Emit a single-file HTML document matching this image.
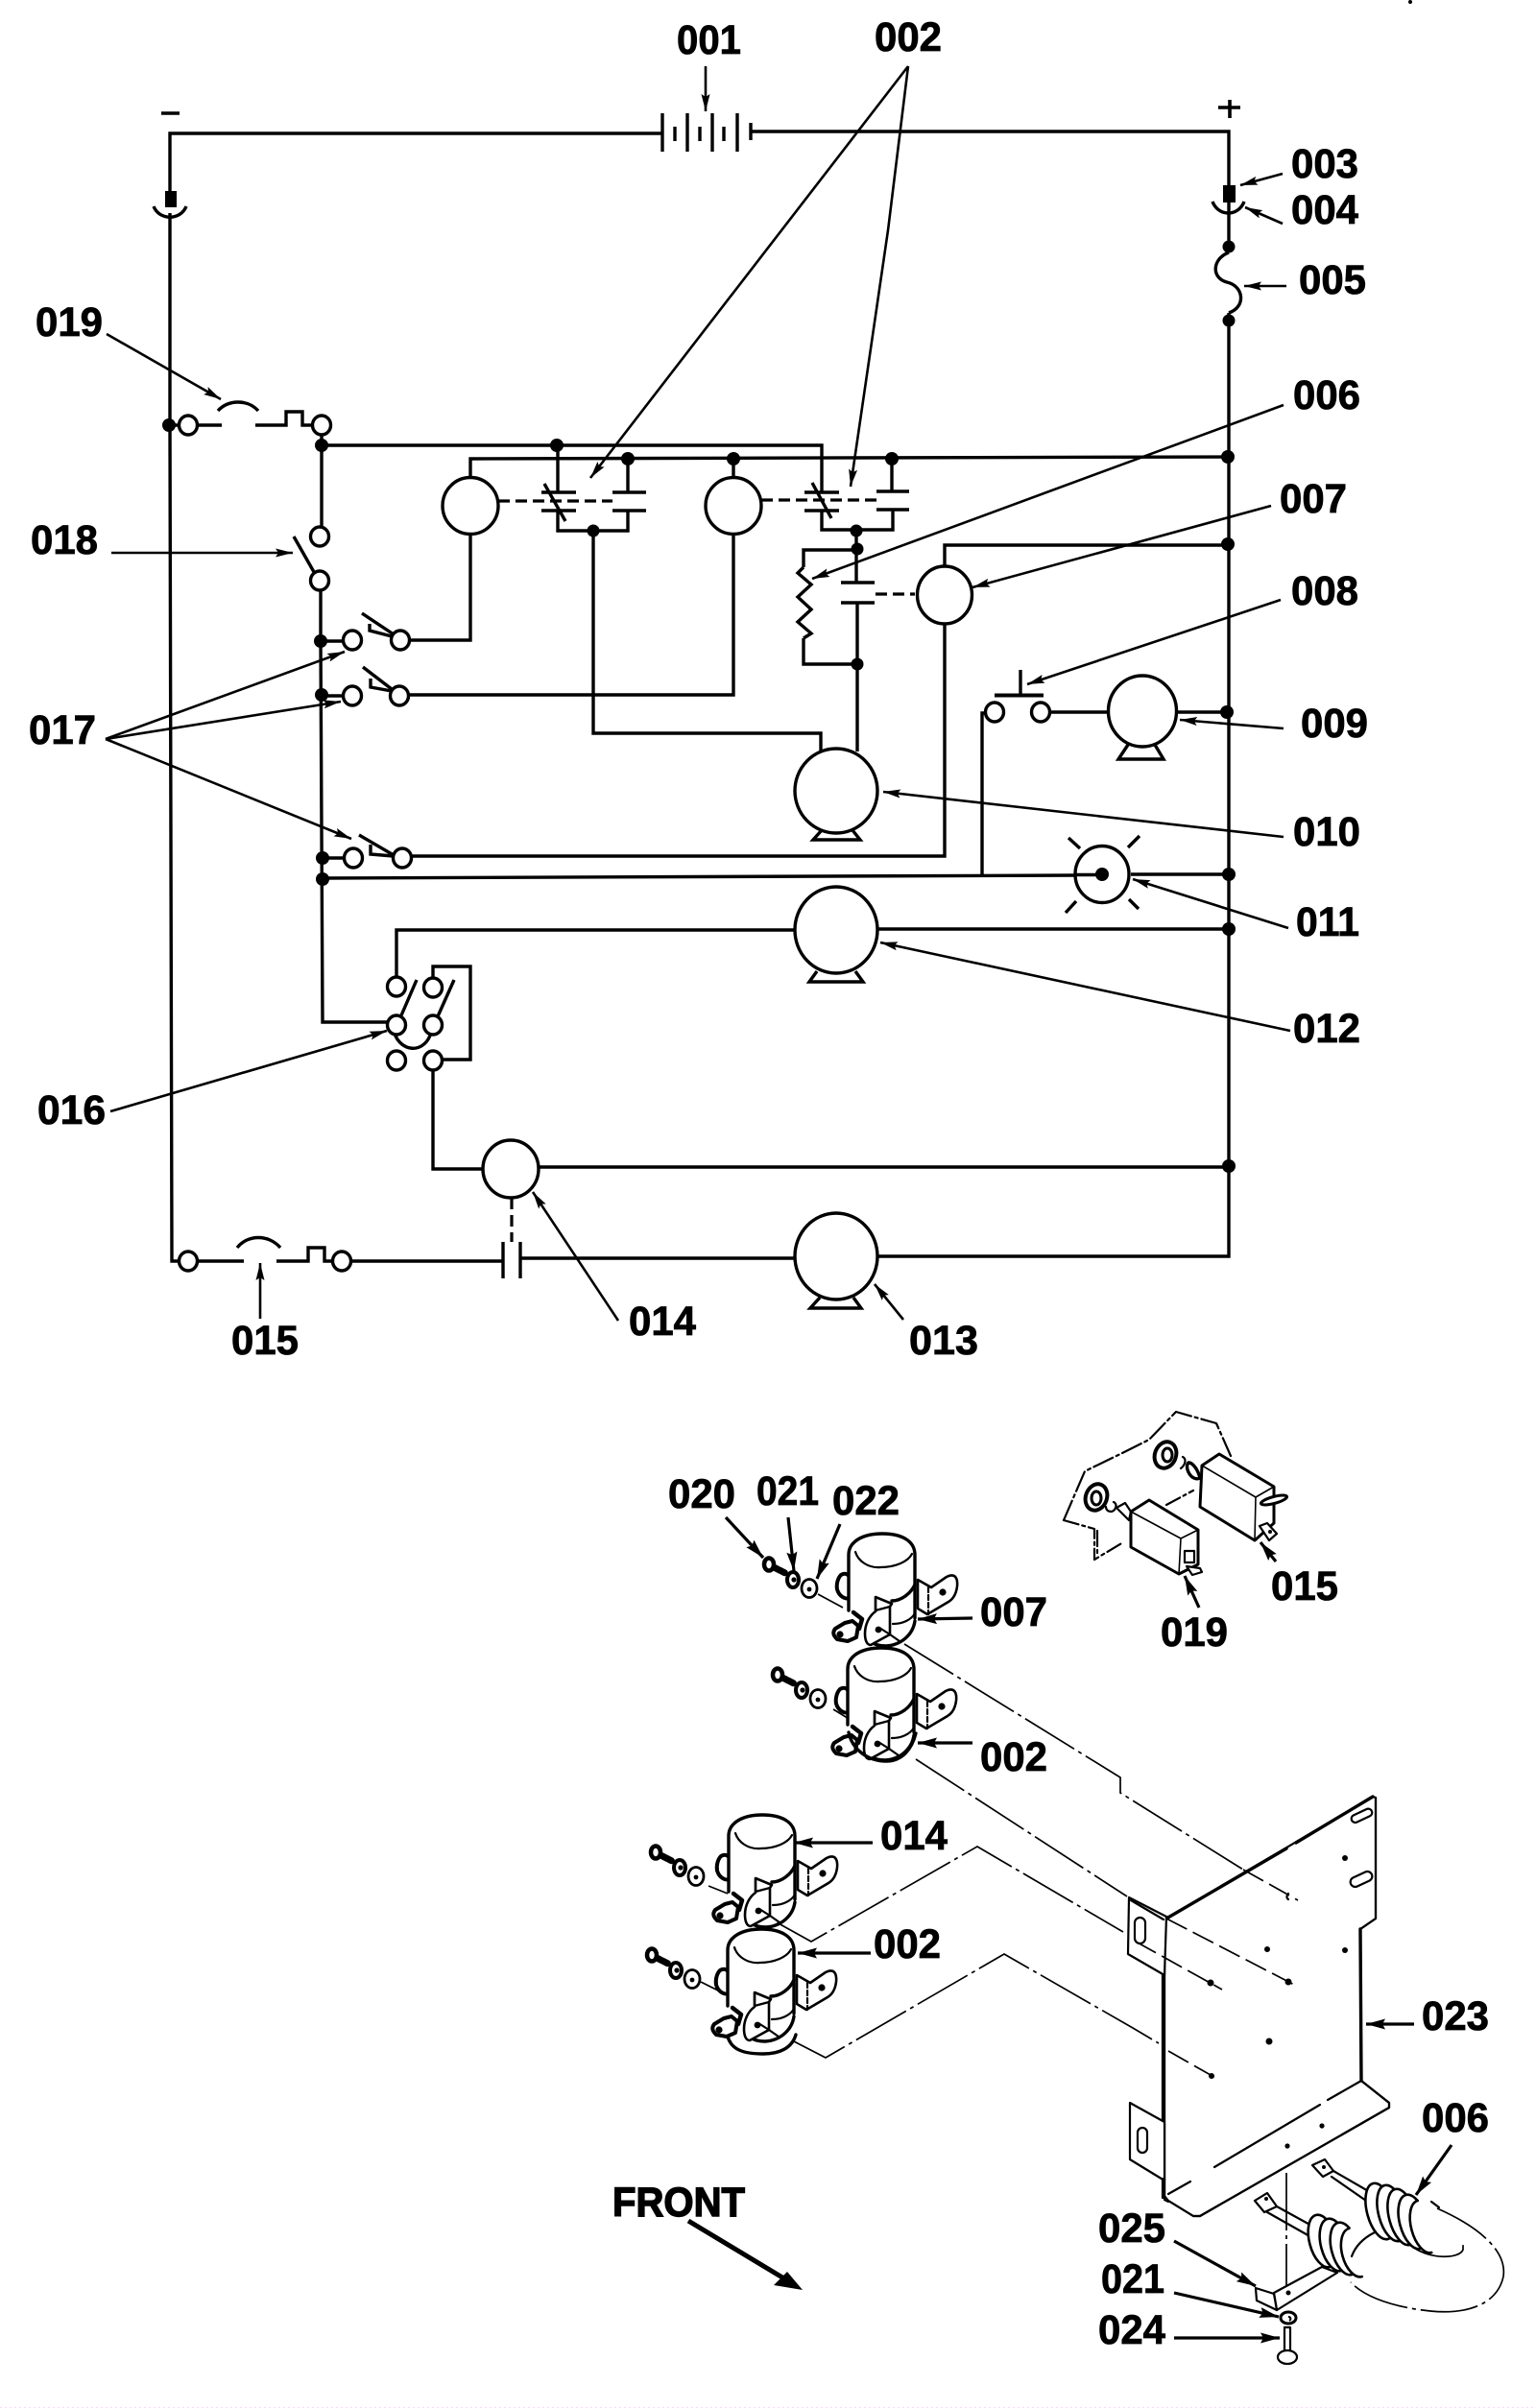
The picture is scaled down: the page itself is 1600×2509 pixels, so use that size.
<!DOCTYPE html>
<html><head><meta charset="utf-8"><title>Diagram</title>
<style>
html,body{margin:0;padding:0;background:#fff}
svg{display:block}
text{font-family:"Liberation Sans",sans-serif;font-weight:700;font-size:43px;fill:#000;stroke:#000;stroke-width:.8}
.w{fill:none;stroke:#000;stroke-width:3.4;stroke-linejoin:miter}
.c{fill:#fff;stroke:#000;stroke-width:3.4}
.l{fill:none;stroke:#000;stroke-width:2.6;marker-end:url(#a)}
.lt{fill:none;stroke:#000;stroke-width:3.2;marker-end:url(#b)}
.t{fill:none;stroke:#000;stroke-width:2.2;stroke-linejoin:round;stroke-linecap:round}
.ts{fill:#fff;stroke:#000;stroke-width:2.2;stroke-linejoin:round}
.tb{fill:none;stroke:#000;stroke-width:3.4;stroke-linejoin:round;stroke-linecap:round}
.dd{fill:none;stroke:#000;stroke-width:1.7;stroke-dasharray:60 5 4 5}
.d{fill:none;stroke:#000;stroke-width:3.2;stroke-dasharray:12 6}
.pd{fill:none;stroke:#000;stroke-width:1.7;stroke-dasharray:24 7}
</style></head><body>
<svg width="1600" height="2509" viewBox="0 0 1600 2509" xmlns="http://www.w3.org/2000/svg">
<defs>
<marker id="a" markerWidth="20" markerHeight="12" refX="18" refY="6" orient="auto" markerUnits="userSpaceOnUse"><path d="M0 1.5L18 6L0 10.5L3 6z"/></marker>
<marker id="b" markerWidth="22" markerHeight="14" refX="20" refY="7" orient="auto" markerUnits="userSpaceOnUse"><path d="M0 1.5L20 7L0 12.5L3 7z"/></marker>
<g id="sol">
 <path class="ts" style="stroke-width:4" d="M876 1641c5-3 9 0 10 5v19c-6 2-12-2-14-9c-1-6 1-12 4-15z"/>
 <path class="ts" style="stroke-width:2.6" d="M956 1646l14 8l16-11c8-4 12 0 11 10c-1 8-4 13-9 16l-22 13l-10-6z"/>
 <circle cx="982" cy="1659" r="3.600"/>
 <path class="t" style="stroke-dasharray:5 3" d="M967 1654v28"/>
 <path class="ts" style="stroke:none" d="M884 1620c0-14 15-22 35-22c21 0 34 8 34 22v66c0 16-15 27-34 27c-20 0-35-10-35-26z"/>
 <path class="tb" d="M884 1620c0-14 15-22 35-22c21 0 34 8 34 22M884 1620v58M953 1620v66"/>
 <path class="t" d="M891 1617c3 10 14 17 26 16c16 0 29-6 33-14"/>
 <path class="tb" d="M929 1668c10 0 20-8 24-17"/>
 <path class="t" d="M930 1692c10 0 19-4 23-11"/>
 <path class="tb" d="M905 1710c6 4 12 5 18 5c16-1 28-12 30-26"/>
 <path class="ts" style="stroke-width:2.6" d="M912 1664l17 7l-2 3v29l-20 11c-4 0-6-5-6-12c0-9 4-18 11-23z"/>
 <path class="t" d="M912 1664v14l15-4M927 1703l-11-7M927 1703l10 7"/>
 <circle cx="915" cy="1698" r="3.400"/>
 <path class="tb" style="stroke-width:4.500" d="M889 1680l9 7l-3 10l-10 3"/>
 <path class="ts" style="stroke-width:4" d="M870 1697l10-6l8-2l6 5l-2 12l-9 4l-11-2c-4-4-5-7-2-11z"/>
 <circle cx="875" cy="1703" r="3.600"/>
</g>
<g id="hw">
 <path class="tb" style="stroke-width:7;stroke-dasharray:3 1" d="M804 1632l14 7"/>
 <ellipse class="ts" style="stroke-width:4.500" cx="801" cy="1630" rx="5" ry="6.500"/>
 <ellipse class="ts" style="stroke-width:4" cx="826" cy="1646" rx="6" ry="8"/>
 <circle cx="827" cy="1646" r="2.600"/>
 <ellipse class="ts" style="stroke-width:2.800" cx="843" cy="1655" rx="8" ry="9.500"/>
 <circle cx="843" cy="1656" r="2.400"/>
</g>
</defs>
<rect width="1600" height="2509" fill="#fff"/>
<circle cx="1469" cy="2" r="2"/>
<path d="M0 2508.500H1600" fill="none" stroke="#fcd8fc" stroke-width="1" stroke-dasharray="2 3"/>

<!-- WIRES -->
<path class="w" d="M177 205V139L689 139M782 137H1280V1309L915 1309"/>
<path class="w" d="M177 222V441L179 1314H196"/>
<path class="w" d="M690 118V158M703 132V147M716 118V158M729 132V147M742 118V158M754 132V147M768 118V158M782 128V146"/>
<path class="w" style="stroke-width:3.600" d="M168 118H187M1269 112H1292M1281 104V123"/>
<rect x="172" y="199" width="12" height="17"/><rect x="1274" y="193" width="13" height="18"/>
<path class="w" d="M160 215C166 230 188 230 194 215M1263 210C1269 226 1290 226 1296 210"/>
<path fill="#fff" d="M1272 262h18v66h-18z"/>
<path class="w" d="M1280 263C1262 270 1262 290 1278 294C1296 298 1298 320 1280 326"/>
<path class="w" d="M1280 263V257M1280 326V334"/>
<path class="w" d="M176 443H231M227 428C238 416 258 416 269 428M266 443H298V429H315V443H327M335 453V464M335 464V549"/>
<path class="w" d="M335 464H856V513M490 498V478L1279 476"/>
<path class="w" d="M581 464V513M564 513H600M564 532H600M567 504L589 543M581 532V553H654V532M638 513H673M638 532H673M654 513V478"/>
<path class="d" d="M519 522H638"/>
<path class="w" d="M856 532V552H930V532M838 513H874M838 532H874M846 503L866 540M913 512H947M913 531H947M929 512V478"/>
<path class="d" d="M793 521H915"/>
<path class="w" d="M490 556V667H427"/>
<path class="w" d="M764 478V498M764 556V724H426"/>
<path class="w" d="M618 553V764H855V783"/>
<path class="w" d="M892 553V607M876 607H911M876 628H911M893 628V783"/>
<path class="w" d="M837 591V573H892M837 665V692H893"/>
<path class="w" d="M837 591L831 597L845 609L831 622L845 635L831 648L845 660L837 665"/>
<path class="d" d="M912 619H953"/>
<path class="w" d="M984 590V568H1279M984 650V892H429"/>
<path class="w" d="M334 615V668L336 1065H403"/>
<path class="w" d="M334 668H357M335 725H357M336 894H358M336 915L1121 912M1178 911H1280"/>
<path class="w" d="M1023 911V743H1026M1094 742H1155M1226 742H1278"/>
<path class="w" style="stroke-width:4" d="M1036 724.500H1087"/><path class="w" d="M1063 698V725"/>
<path class="w" d="M306 559L327 596"/>
<path class="w" d="M377 639L410 661M385 650V657L408 663"/>
<path class="w" d="M378 695L408 718M386 707V716L408 720"/>
<path class="w" d="M374 870L410 891M386 880V890L410 892"/>
<path class="w" d="M413 1018V969H830M915 968H1280"/>
<path class="w" d="M434 1021L418 1058M473 1021L456 1059M411 1077C418 1096 440 1098 448 1079"/>
<path class="w" d="M451 1019V1007H490V1104H462M451 1115V1218H503M561 1216H1280"/>
<path class="d" d="M533 1248V1294"/>
<path class="w" d="M206 1314H254M247 1300C258 1286 280 1286 292 1300M288 1314H321V1300H338V1314H347M365 1314H524M524 1294V1332M542 1294V1332M542 1311H830"/>
<path class="w" d="M1113 873L1125 884M1187 871L1175 883M1121 939L1110 951M1176 937L1186 947"/>

<g class="c">
<ellipse cx="490" cy="527" rx="29" ry="29.5"/>
<ellipse cx="764" cy="527" rx="29" ry="29.5"/>
<ellipse cx="984" cy="620" rx="28.5" ry="30"/>
<ellipse cx="532" cy="1218" rx="29" ry="30"/>
<ellipse cx="1190" cy="741" rx="35.5" ry="37"/>
<ellipse cx="871" cy="824" rx="43" ry="44"/>
<ellipse cx="871" cy="969" rx="43" ry="45"/>
<ellipse cx="871" cy="1309" rx="43" ry="45"/>
<ellipse cx="196" cy="443" rx="9.5" ry="10"/><ellipse cx="335" cy="443" rx="9.5" ry="10"/>
<ellipse cx="333" cy="559" rx="9.5" ry="10"/><ellipse cx="333" cy="605" rx="9.5" ry="10"/>
<ellipse cx="367" cy="667" rx="9.5" ry="10"/><ellipse cx="417" cy="667" rx="9.5" ry="10"/>
<ellipse cx="367" cy="725" rx="9.5" ry="10"/><ellipse cx="416" cy="725" rx="9.5" ry="10"/>
<ellipse cx="368" cy="894" rx="9.5" ry="10"/><ellipse cx="419" cy="894" rx="9.5" ry="10"/>
<ellipse cx="413" cy="1028" rx="9.5" ry="10"/><ellipse cx="451" cy="1029" rx="9.5" ry="10"/>
<ellipse cx="413" cy="1068" rx="9.5" ry="10"/><ellipse cx="451" cy="1068" rx="9.5" ry="10"/>
<ellipse cx="413" cy="1105" rx="9.5" ry="10"/><ellipse cx="451" cy="1105" rx="9.5" ry="10"/>
<ellipse cx="196" cy="1314" rx="9.5" ry="10"/><ellipse cx="356" cy="1314" rx="9.5" ry="10"/>
<ellipse cx="1036" cy="742" rx="9.5" ry="10"/><ellipse cx="1084" cy="742" rx="9.5" ry="10"/>
</g>
<ellipse class="w" cx="1148" cy="911" rx="28" ry="29.5"/>
<path class="w" d="M1121 911.500H1148"/>
<circle cx="1148" cy="911" r="7"/>
<path class="w" d="M1175 776L1165 791H1212L1203 776"/>
<path class="w" d="M856 865L847 875H896L888 865"/>
<path class="w" d="M851 1012L843 1023H899L891 1012"/>
<path class="w" d="M854 1352L844 1363H897L889 1352"/>
<g>
<circle cx="176" cy="443" r="7"/><circle cx="335" cy="464" r="7"/><circle cx="580" cy="464" r="7"/><circle cx="654" cy="478" r="7"/>
<circle cx="764" cy="478" r="7"/><circle cx="929" cy="478" r="7"/><circle cx="1279" cy="476" r="7"/><circle cx="1279" cy="567" r="7"/>
<circle cx="1278" cy="742" r="7"/><circle cx="1280" cy="911" r="7"/><circle cx="1280" cy="968" r="7"/><circle cx="1280" cy="1215" r="7"/>
<circle cx="1280" cy="257" r="6.500"/><circle cx="1280" cy="334" r="6.500"/>
<circle cx="618" cy="553" r="6.500"/><circle cx="892" cy="553" r="6.500"/><circle cx="893" cy="572" r="6.500"/><circle cx="893" cy="692" r="6.500"/>
<circle cx="334" cy="668" r="7"/><circle cx="335" cy="724" r="7"/><circle cx="336" cy="894" r="7"/><circle cx="336" cy="916" r="7"/>
</g>

<path class="l" d="M735 69V116"/>
<path class="l" d="M946 69L615 498"/>
<path class="l" d="M946 69L925 240L886 507"/>
<path class="l" d="M1336 181L1292 193"/>
<path class="l" d="M1336 233L1297 216"/>
<path class="l" d="M1340 298H1296"/>
<path class="l" d="M1337 422L846 603"/>
<path class="l" d="M1324 527L1013 612"/>
<path class="l" d="M1334 625L1070 713"/>
<path class="l" d="M1337 759L1229 750"/>
<path class="l" d="M1337 872L920 825"/>
<path class="l" d="M1342 967L1180 916"/>
<path class="l" d="M1344 1074L917 982"/>
<path class="l" d="M941 1375L911 1338"/>
<path class="l" d="M644 1376L555 1242"/>
<path class="l" d="M271 1374V1316"/>
<path class="l" d="M115 1158L403 1074"/>
<path class="l" d="M110 770L359 679"/>
<path class="l" d="M110 770L355 731"/>
<path class="l" d="M110 770L366 874"/>
<path class="l" d="M116 576H305"/>
<path class="l" d="M111 348L230 416"/>

<g>
<text x="705" y="56" textLength="67" lengthAdjust="spacingAndGlyphs">001</text>
<text x="911" y="53" textLength="70" lengthAdjust="spacingAndGlyphs">002</text>
<text x="1345" y="185" textLength="70" lengthAdjust="spacingAndGlyphs">003</text>
<text x="1345" y="233" textLength="70" lengthAdjust="spacingAndGlyphs">004</text>
<text x="1353" y="306" textLength="70" lengthAdjust="spacingAndGlyphs">005</text>
<text x="1347" y="426" textLength="70" lengthAdjust="spacingAndGlyphs">006</text>
<text x="1333" y="534" textLength="70" lengthAdjust="spacingAndGlyphs">007</text>
<text x="1345" y="630" textLength="70" lengthAdjust="spacingAndGlyphs">008</text>
<text x="1355" y="768" textLength="70" lengthAdjust="spacingAndGlyphs">009</text>
<text x="1347" y="881" textLength="70" lengthAdjust="spacingAndGlyphs">010</text>
<text x="1350" y="975" textLength="66" lengthAdjust="spacingAndGlyphs">011</text>
<text x="1347" y="1086" textLength="70" lengthAdjust="spacingAndGlyphs">012</text>
<text x="947" y="1411" textLength="72" lengthAdjust="spacingAndGlyphs">013</text>
<text x="655" y="1391" textLength="70" lengthAdjust="spacingAndGlyphs">014</text>
<text x="241" y="1411" textLength="70" lengthAdjust="spacingAndGlyphs">015</text>
<text x="39" y="1171" textLength="71" lengthAdjust="spacingAndGlyphs">016</text>
<text x="30" y="775" textLength="70" lengthAdjust="spacingAndGlyphs">017</text>
<text x="32" y="577" textLength="70" lengthAdjust="spacingAndGlyphs">018</text>
<text x="37" y="350" textLength="70" lengthAdjust="spacingAndGlyphs">019</text>
</g>

<path class="dd" d="M942 1713L1167 1852V1868L1295 1948"/>
<path class="dd" d="M954 1833L1174 1976"/>
<path class="dd" d="M809 2003L845 2023L1018 1924L1170 2013"/>
<path class="dd" d="M827 2127L860 2144L1046 2036L1180 2113L1207 2129"/>
<path class="dd" d="M852 1661L878 1675"/>
<path class="dd" d="M868 1781L886 1792"/>
<path class="dd" d="M738 1965L758 1973"/>
<path class="dd" d="M730 2065L770 2085"/>

<use href="#sol"/>
<use href="#sol" transform="translate(-1 119)"/>
<use href="#sol" transform="translate(-125 293)"/>
<use href="#sol" transform="translate(-126 412)"/>
<path class="tb" d="M884 1805C888 1824 905 1835 923 1835C940 1835 950 1822 954 1806"/>
<path class="tb" d="M758 2122C762 2136 775 2140 795 2140C812 2140 825 2134 829 2120"/>
<use href="#hw"/>
<use href="#hw" transform="translate(9 115)"/>
<use href="#hw" transform="translate(-118 300)"/>
<use href="#hw" transform="translate(-122 407)"/>

<!-- plate -->
<path class="ts" d="M1215 1999L1430 1872L1433 1873V1999L1417 2010L1418 2168L1447 2191V2196L1250 2309H1243L1217 2293L1213 2288L1213 2003z"/>
<path class="tb" d="M1215 1999L1340 1926M1350 1920L1430 1872"/>
<path class="t" d="M1433 1873V1999L1417 2010"/>
<path class="tb" d="M1417 2010L1418 2168"/>
<path class="t" d="M1418 2168L1447 2191V2196L1250 2309H1243L1217 2293"/>
<path class="t" d="M1418 2168L1383 2188M1375 2193L1265 2258M1240 2273L1217 2286"/>
<path class="t" d="M1213 2003V2288M1211 2056V2210"/>
<path class="ts" d="M1176 1977L1215 1997L1213 2058L1175 2036z"/>
<path class="ts" d="M1177 2191L1213 2211V2272L1177 2250z"/>
<path class="t" d="M1178 1980L1212 2000"/>
<path class="t" d="M1213 2270V2292L1217 2294M1211 2270V2290"/>
<rect class="ts" x="1182" y="1998" width="11" height="27" rx="5.500"/>
<rect class="ts" x="1185" y="2217" width="10" height="26" rx="5"/>
<rect class="ts" x="1407" y="1888" width="23" height="8" rx="4" transform="rotate(-25 1418 1892)"/>
<rect class="ts" x="1406" y="1953" width="24" height="10" rx="5" transform="rotate(-25 1418 1958)"/>
<g>
<circle cx="1401" cy="1936" r="3"/><circle cx="1320" cy="2031" r="3"/><circle cx="1401" cy="2032" r="3"/>
<circle cx="1261" cy="2066" r="3.500"/><circle cx="1342" cy="2065" r="3.500"/><circle cx="1322" cy="2127" r="3.500"/>
<circle cx="1262" cy="2163" r="3"/><circle cx="1377" cy="2215" r="2.600"/><circle cx="1341" cy="2236" r="2.600"/>
</g>
<path class="t" d="M1342 1973c-2 2-2 5 0 6"/>
<path class="pd" d="M1295 1948L1352 1980M1215 1999L1352 2070M1183 2023L1273 2073M1217 2137L1268 2166"/>
<path class="dd" d="M1340 2264V2389"/>

<!-- heater -->
<path class="dd" d="M1497 2301C1540 2320 1570 2345 1566 2372C1560 2400 1530 2412 1490 2408C1450 2404 1420 2392 1407 2378"/>
<path class="dd" d="M1473 2342C1490 2354 1520 2354 1524 2344V2336"/>
<path class="t" d="M1389 2262L1427 2284M1387 2268L1423 2293M1330 2299L1370 2321M1320 2305L1366 2331"/>
<path class="ts" d="M1367 2256L1380 2250L1389 2262L1378 2268z"/>
<path class="ts" d="M1307 2293L1320 2285L1330 2299L1317 2305z"/>
<circle cx="1379" cy="2258" r="2"/><circle cx="1319" cy="2291" r="2"/>
<path class="ts" d="M1327 2389L1377 2362L1393 2368L1330 2407z"/>
<path class="ts" d="M1308 2384L1327 2390L1330 2407L1309 2397z"/>
<circle cx="1342" cy="2389" r="2.500"/>
<g class="ts" style="stroke-width:2.600">
<ellipse cx="1378" cy="2335" rx="14" ry="28" transform="rotate(-15 1378 2335)"/>
<ellipse cx="1390" cy="2339" rx="14" ry="28" transform="rotate(-15 1390 2339)"/>
<ellipse cx="1401" cy="2343" rx="14" ry="28" transform="rotate(-15 1401 2343)"/>
<ellipse cx="1412" cy="2347" rx="14" ry="26" transform="rotate(-15 1412 2347)" style="stroke:none"/>
<path class="t" style="stroke-width:2.600" transform="rotate(-15 1412 2347)" d="M1412 2321A14 26 0 0 0 1412 2373"/>
<path class="t" style="stroke-width:2.200" d="M1408 2351C1412 2340 1420 2332 1432 2326"/>
<ellipse cx="1438" cy="2304" rx="14" ry="30" transform="rotate(-15 1438 2304)"/>
<ellipse cx="1450" cy="2306" rx="14" ry="30" transform="rotate(-15 1450 2306)"/>
<ellipse cx="1461" cy="2310" rx="14" ry="30" transform="rotate(-15 1461 2310)"/>
<ellipse cx="1472" cy="2315" rx="14" ry="29" transform="rotate(-15 1472 2315)"/>
<ellipse cx="1484" cy="2320" rx="14" ry="28" transform="rotate(-15 1484 2320)" style="stroke:none"/>
<path class="t" style="stroke-width:2.600" transform="rotate(-15 1484 2320)" d="M1484 2292A14 28 0 0 0 1484 2348"/>
</g>
<path class="t" d="M1491 2294L1499 2300"/>
<!-- hardware -->
<ellipse class="ts" style="stroke-width:3" cx="1342" cy="2415" rx="8" ry="6"/>
<path d="M1342 2414c3 0 3 3 1 4" fill="none" stroke="#000" stroke-width="2"/>
<rect class="ts" x="1338" y="2425" width="6" height="27"/>
<ellipse class="ts" cx="1341" cy="2456" rx="10" ry="7"/>

<!-- panel -->
<path class="t" style="stroke-dasharray:22 4 3 4" d="M1108 1584L1130 1533L1167 1515L1197 1500L1225 1471L1267 1483L1282 1517"/>
<path class="t" style="stroke-dasharray:16 4 3 4" d="M1108 1584L1140 1593V1625L1170 1607M1215 1568L1243 1553M1143 1595V1622"/>
<ellipse class="ts" style="stroke-width:4" cx="1142" cy="1560" rx="11" ry="14" transform="rotate(20 1142 1560)"/>
<ellipse class="ts" style="stroke-width:3" cx="1142" cy="1561" rx="5" ry="7"/>
<ellipse class="ts" style="stroke-width:4" cx="1214" cy="1516" rx="11" ry="14" transform="rotate(20 1214 1516)"/>
<ellipse class="ts" style="stroke-width:3" cx="1216" cy="1516" rx="5" ry="7"/>
<path class="t" d="M1160 1565c4 2 3 8-2 10c-4 0-6-2-6-5M1232 1518c4 2 3 8-2 12"/>
<path class="ts" d="M1163 1571L1172 1566L1178 1575L1176 1584z"/>
<path class="ts" style="stroke-width:3.400" d="M1238 1524c5 0 10 8 12 16c-4 2-9 0-12-6c-2-4-2-8 0-10z"/>
<path class="ts" style="stroke-width:3" d="M1252 1527L1270 1515L1327 1549V1587L1307 1605L1250 1570z"/>
<path class="t" style="stroke-width:1.600" d="M1252 1527L1308 1560L1327 1549M1308 1560L1307 1605"/>
<path class="ts" d="M1312 1590L1320 1587L1330 1598L1322 1605z"/><circle cx="1323" cy="1596" r="2"/>
<ellipse cx="1327" cy="1563" rx="14" ry="3.500" transform="rotate(-15 1327 1563)" fill="#fff" stroke="#000" stroke-width="3"/>
<path class="ts" style="stroke-width:3" d="M1178 1575L1197 1563L1248 1594V1630L1228 1640L1178 1612z"/>
<path class="t" style="stroke-width:1.600" d="M1178 1575L1230 1603L1248 1594M1230 1603L1228 1640"/>
<rect class="ts" x="1234" y="1616" width="10" height="12"/><path class="ts" d="M1236 1632L1250 1634L1252 1638L1242 1641z"/>

<path class="lt" d="M756 1581L795 1623"/>
<path class="lt" d="M821 1581L827 1637"/>
<path class="lt" d="M875 1588L851 1645"/>
<path class="lt" d="M1013 1686L956 1687"/>
<path class="lt" d="M1013 1816H956"/>
<path class="lt" d="M909 1920H827"/>
<path class="lt" d="M907 2035H831"/>
<path class="lt" d="M1329 1627L1313 1607"/>
<path class="lt" d="M1249 1675L1234 1642"/>
<path class="lt" d="M1473 2109H1423"/>
<path class="lt" d="M1512 2235L1475 2287"/>
<path class="lt" d="M1223 2335L1308 2382"/>
<path class="lt" d="M1223 2389L1332 2414"/>
<path class="lt" d="M1223 2436H1333"/>
<path fill="none" stroke="#000" stroke-width="5" d="M717 2314L825 2379"/>
<path d="M836 2386L806 2381L820 2367z"/>

<g>
<text x="696" y="1571" textLength="70" lengthAdjust="spacingAndGlyphs">020</text>
<text x="788" y="1568" textLength="65" lengthAdjust="spacingAndGlyphs">021</text>
<text x="867" y="1578" textLength="70" lengthAdjust="spacingAndGlyphs">022</text>
<text x="1021" y="1694" textLength="70" lengthAdjust="spacingAndGlyphs">007</text>
<text x="1021" y="1845" textLength="70" lengthAdjust="spacingAndGlyphs">002</text>
<text x="917" y="1927" textLength="70" lengthAdjust="spacingAndGlyphs">014</text>
<text x="910" y="2040" textLength="70" lengthAdjust="spacingAndGlyphs">002</text>
<text x="1324" y="1667" textLength="70" lengthAdjust="spacingAndGlyphs">015</text>
<text x="1209" y="1715" textLength="70" lengthAdjust="spacingAndGlyphs">019</text>
<text x="1481" y="2115" textLength="70" lengthAdjust="spacingAndGlyphs">023</text>
<text x="1481" y="2221" textLength="70" lengthAdjust="spacingAndGlyphs">006</text>
<text x="1144" y="2336" textLength="70" lengthAdjust="spacingAndGlyphs">025</text>
<text x="1147" y="2389" textLength="66" lengthAdjust="spacingAndGlyphs">021</text>
<text x="1144" y="2442" textLength="70" lengthAdjust="spacingAndGlyphs">024</text>
<text x="638" y="2309" textLength="138" lengthAdjust="spacingAndGlyphs" style="stroke-width:1.4">FRONT</text>
</g>
</svg>
</body></html>
